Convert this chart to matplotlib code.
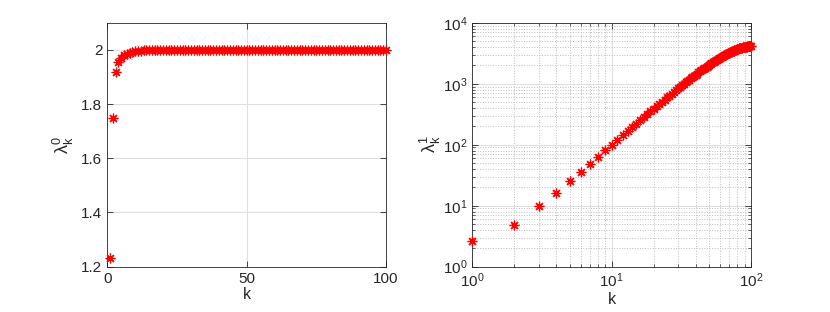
import numpy as np
import matplotlib
matplotlib.use('Agg')
import matplotlib.pyplot as plt
from matplotlib.ticker import LogLocator, NullFormatter

plt.rcParams['font.family'] = ['Liberation Sans', 'DejaVu Sans']
plt.rcParams['mathtext.fontset'] = 'custom'
plt.rcParams['mathtext.rm'] = 'Liberation Sans'
plt.rcParams['mathtext.it'] = 'Liberation Sans'
plt.rcParams['mathtext.default'] = 'regular'

# mode index
k = np.arange(1, 101)

# lambda_k^0
lam0 = [1.232, 1.750, 1.920, 1.955, 1.971, 1.980, 1.986, 1.990, 1.993, 1.995,
        1.996, 1.997, 1.998, 1.998, 1.999, 1.999, 1.999, 1.999, 2.000, 2.000,
        2.000, 2.000, 2.000, 2.000, 2.000, 2.000, 2.000, 2.000, 2.000, 2.000,
        2.000, 2.000, 2.000, 2.000, 2.000, 2.000, 2.000, 2.000, 2.000, 2.000,
        2.000, 2.000, 2.000, 2.000, 2.000, 2.000, 2.000, 2.000, 2.000, 2.000,
        2.000, 2.000, 2.000, 2.000, 2.000, 2.000, 2.000, 2.000, 2.000, 2.000,
        2.000, 2.000, 2.000, 2.000, 2.000, 2.000, 2.000, 2.000, 2.000, 2.000,
        2.000, 2.000, 2.000, 2.000, 2.000, 2.000, 2.000, 2.000, 2.000, 2.000,
        2.000, 2.000, 2.000, 2.000, 2.000, 2.000, 2.000, 2.000, 2.000, 2.000,
        2.000, 2.000, 2.000, 2.000, 2.000, 2.000, 2.000, 2.000, 2.000, 2.000]

# lambda_k^1
lam1 = [2.6, 4.9, 9.8, 16.4, 25.0, 36.0, 49.0, 64.0, 81.0, 99.2,
        119.8, 142.3, 166.7, 192.9, 220.9, 250.8, 282.3, 315.6, 350.6, 387.3,
        425.6, 465.5, 507.0, 550.0, 594.6, 640.5, 688.0, 736.8, 786.8, 838.2,
        890.9, 944.7, 996.5, 1052.2, 1109.0, 1166.0, 1224.5, 1283.7, 1343.6, 1404.0,
        1465.2, 1527.0, 1589.0, 1652.0, 1715.0, 1779.0, 1842.6, 1906.6, 1970.8, 2035.0,
        2099.4, 2163.6, 2227.8, 2291.8, 2355.4, 2419.4, 2482.4, 2545.4, 2607.4, 2669.2,
        2730.4, 2790.8, 2850.7, 2909.9, 2968.4, 3025.4, 3082.2, 3137.9, 3189.7, 3243.5,
        3296.2, 3347.6, 3397.6, 3446.4, 3493.9, 3539.8, 3584.4, 3627.4, 3668.9, 3708.8,
        3747.1, 3783.8, 3818.8, 3852.1, 3883.6, 3913.5, 3941.5, 3967.7, 3992.1, 4014.6,
        4035.2, 4053.9, 4070.7, 4085.6, 4098.5, 4109.5, 4118.4, 4125.4, 4130.4, 4133.4]

y0_ticks = [1.2, 1.4, 1.6, 1.8, 2.0]
y0_labels = ['1.2', '1.4', '1.6', '1.8', '2']
x0_ticks = [0, 50, 100]

dark = '#262626'
asterisk = (8, 2, 0)

fig = plt.figure(figsize=(8.3, 3.12), dpi=100)
ax1 = fig.add_axes([0.1293, 0.1452, 0.3358, 0.782])
ax2 = fig.add_axes([0.569, 0.1452, 0.3358, 0.782])

# left panel
ax1.plot(k, lam0, linestyle='none', marker=asterisk, color='red',
         markersize=7, markeredgewidth=0.9, clip_on=False, zorder=3)
ax1.set_xlim(0, 100)
ax1.set_ylim(1.2, 2.1)
ax1.set_xticks(x0_ticks)
ax1.set_yticks(y0_ticks)
ax1.set_yticklabels(y0_labels)
ax1.grid(True, color='#dfdfdf', linewidth=0.8)
ax1.set_xlabel('k', fontsize=11.5, labelpad=1, color=dark)
ax1.set_ylabel(r'$\lambda_k^0$', fontsize=13, labelpad=4, color=dark)

# right panel
ax2.loglog(k, lam1, linestyle='none', marker=asterisk, color='red',
           markersize=7, markeredgewidth=0.9, clip_on=False, zorder=3)
ax2.set_xlim(1, 100)
ax2.set_ylim(1, 1e4)
ax2.xaxis.set_major_locator(LogLocator(base=10, numticks=10))
ax2.yaxis.set_major_locator(LogLocator(base=10, numticks=10))
ax2.xaxis.set_minor_locator(LogLocator(base=10, subs=np.arange(2, 10), numticks=20))
ax2.yaxis.set_minor_locator(LogLocator(base=10, subs=np.arange(2, 10), numticks=20))
ax2.xaxis.set_minor_formatter(NullFormatter())
ax2.yaxis.set_minor_formatter(NullFormatter())
ax2.grid(True, which='major', color='#dfdfdf', linewidth=0.8)
ax2.grid(True, which='minor', color='#bdbdbd', linestyle=':', linewidth=0.7)
ax2.set_xlabel('k', fontsize=11.5, labelpad=1, color=dark)
ax2.set_ylabel(r'$\lambda_k^1$', fontsize=13, labelpad=0, color=dark)

for ax in (ax1, ax2):
    ax.set_axisbelow(True)
    ax.tick_params(which='both', direction='in', top=True, right=True,
                   colors=dark, labelsize=11)
    ax.tick_params(which='major', length=4, width=0.6)
    ax.tick_params(which='minor', length=2, width=0.5)
    for s in ax.spines.values():
        s.set_color(dark)
        s.set_linewidth(0.6)

plt.savefig('out.png', dpi=100)
